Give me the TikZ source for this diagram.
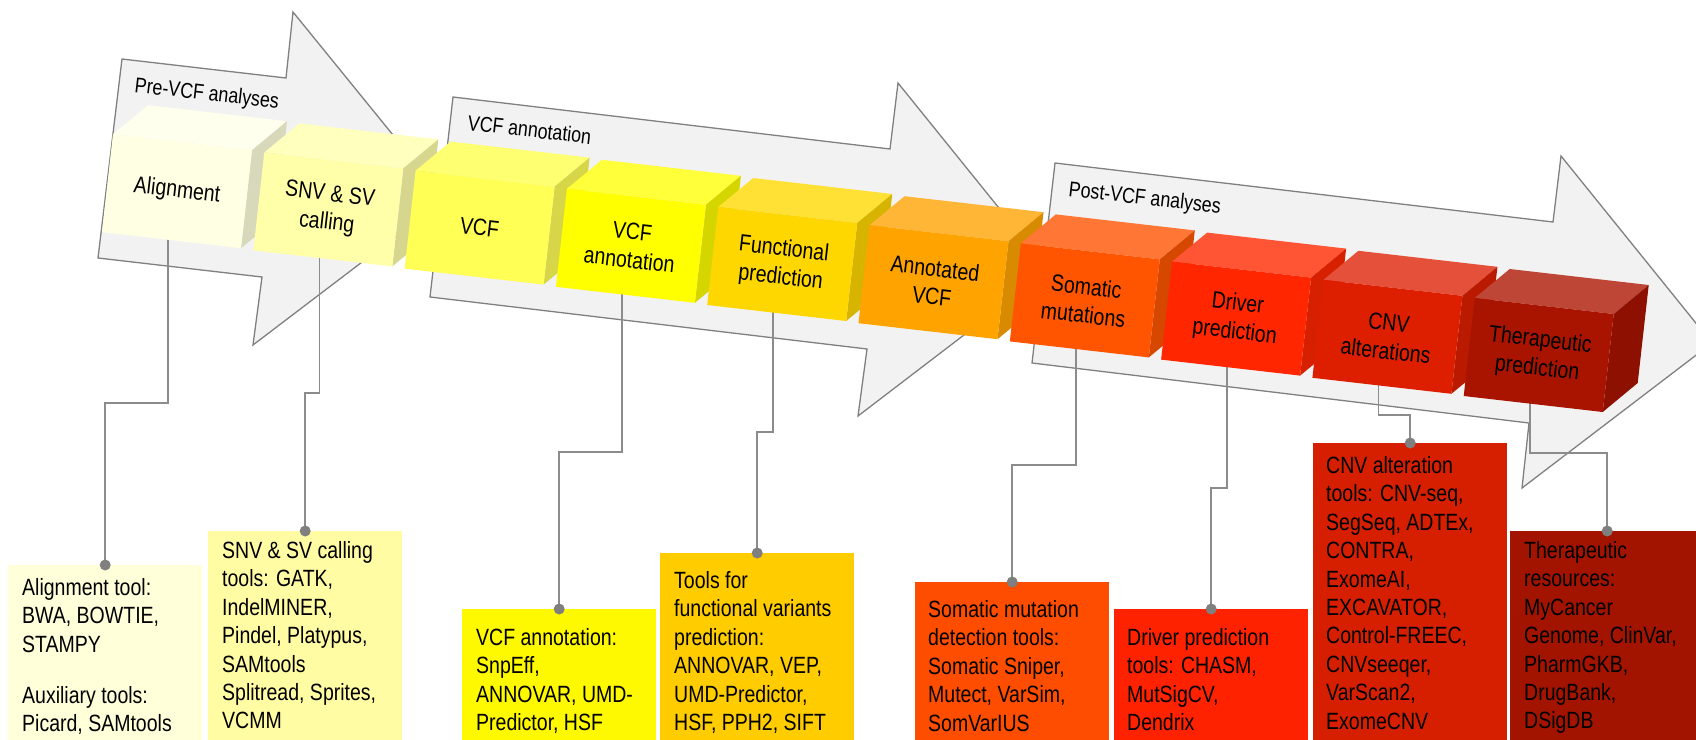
\documentclass[tikz,border=0pt]{standalone}
\usepackage{fontspec}
\setmainfont{Liberation Sans}[FakeStretch=0.83]
\usetikzlibrary{calc}
\pgfdeclarelayer{arrowlayer}
\pgfdeclarelayer{linklayer}
\pgfsetlayers{arrowlayer,linklayer,main}

\definecolor{arrowfill}{HTML}{F2F2F2}
\definecolor{arrowline}{HTML}{808080}
\definecolor{linkgray}{HTML}{8C8C8C}
\definecolor{dotgray}{HTML}{7F7F7F}
% cube colours: front, top, side
\definecolor{c0f}{HTML}{FFFFE3}\definecolor{c0t}{HTML}{FFFFEE}\definecolor{c0s}{HTML}{D8D8BA}
\definecolor{c1f}{HTML}{FFFFAA}\definecolor{c1t}{HTML}{FFFFBE}\definecolor{c1s}{HTML}{D6D68E}
\definecolor{c2f}{HTML}{FFFF55}\definecolor{c2t}{HTML}{FFFF72}\definecolor{c2s}{HTML}{D6D648}
\definecolor{c3f}{HTML}{FFFF00}\definecolor{c3t}{HTML}{FFFF3A}\definecolor{c3s}{HTML}{D5D500}
\definecolor{c4f}{HTML}{FFD700}\definecolor{c4t}{HTML}{FFE135}\definecolor{c4s}{HTML}{D6B400}
\definecolor{c5f}{HTML}{FFA300}\definecolor{c5t}{HTML}{FFB535}\definecolor{c5s}{HTML}{D88A00}
\definecolor{c6f}{HTML}{FF5500}\definecolor{c6t}{HTML}{FF7635}\definecolor{c6s}{HTML}{D64700}
\definecolor{c7f}{HTML}{FF2600}\definecolor{c7t}{HTML}{FF5535}\definecolor{c7s}{HTML}{D62000}
\definecolor{c8f}{HTML}{DD1F00}\definecolor{c8t}{HTML}{E5503A}\definecolor{c8s}{HTML}{BA1A00}
\definecolor{c9f}{HTML}{A81400}\definecolor{c9t}{HTML}{BE4636}\definecolor{c9s}{HTML}{8E1000}
% tool box colours
\definecolor{b1c}{HTML}{FFFFDA}
\definecolor{b2c}{HTML}{FFFCA4}
\definecolor{b3c}{HTML}{FFF900}
\definecolor{b4c}{HTML}{FFCC00}
\definecolor{b5c}{HTML}{FF4D00}
\definecolor{b6c}{HTML}{FF2200}
\definecolor{b7c}{HTML}{D61F00}
\definecolor{b8c}{HTML}{A31400}

\tikzset{
  bigarrow/.style={fill=arrowfill, draw=arrowline, line width=1.3pt, line join=miter},
  arrowlabel/.style={font=\fontsize{21.5}{26}\selectfont, anchor=base west, rotate=-6.57, inner sep=0pt},
  cubelabel/.style={font=\fontsize{23.5}{28.4}\selectfont, align=center, rotate=-6.57, inner sep=0pt},
  link/.style={draw=linkgray, line width=1.6pt},
  linkdot/.style={fill=dotgray},
  toolbox/.style={minimum width=194pt, minimum height=260pt, anchor=north west, inner sep=0pt, draw=none},
  tooltext/.style={font=\fontsize{23.5}{28.4}\selectfont, align=left, anchor=north west, inner sep=0pt},
}

% #1 index, #2 name, #3 front, #4 top, #5 side, #6 label
\newcommand\mkcube[6]{%
  \coordinate (#2tl) at ({113+151.3*#1},{134.2+18.2*#1});
  \fill[#4] (#2tl) -- ++(35,-29) -- ++(139,16) -- ++(-35,29) -- cycle;
  \fill[#5] ($(#2tl)+(139,16)$) -- ++(35,-29) -- ++(-11,98) -- ++(-35,29) -- cycle;
  \fill[#3] (#2tl) -- ++(139,16) -- ++(-11,98) -- ++(-139,-16) -- cycle;
  \node[cubelabel] (#2) at ($(#2tl)+(64,57)$) {#6};
  \coordinate (#2b) at ($(#2tl)+(55,95)$);
}

\begin{document}
\begin{tikzpicture}[x=1pt,y=-1pt]
\useasboundingbox (0,0) rectangle (1696,739);
\clip (0,0) rectangle (1696,739);

% ---------- big arrows ----------
\begin{pgfonlayer}{arrowlayer}
\draw[bigarrow] (122,59) -- (286,78) -- (293,12) -- (445,199) -- (253,345) -- (262,277) -- (98,258) -- cycle;
\draw[bigarrow] (453,97) -- (890,149) -- (898,83) -- (1049,270) -- (858,416) -- (867,349) -- (430,297) -- cycle;
\draw[bigarrow] (1055,163) -- (1553,222) -- (1561,156) -- (1712,343) -- (1522,488) -- (1529,423) -- (1032,363) -- cycle;
\node[arrowlabel] (preL) at (134,92) {Pre-VCF analyses};
\node[arrowlabel] (annL) at (467,130) {VCF annotation};
\node[arrowlabel] (postL) at (1068,196) {Post-VCF analyses};
\end{pgfonlayer}

% ---------- cubes ----------
\mkcube{0}{al}{c0f}{c0t}{c0s}{Alignment}
\mkcube{1}{sv}{c1f}{c1t}{c1s}{SNV \& SV\\calling}
\mkcube{2}{vc}{c2f}{c2t}{c2s}{VCF}
\mkcube{3}{va}{c3f}{c3t}{c3s}{VCF\\annotation}
\mkcube{4}{fp}{c4f}{c4t}{c4s}{Functional\\prediction}
\mkcube{5}{av}{c5f}{c5t}{c5s}{Annotated\\VCF}
\mkcube{6}{sm}{c6f}{c6t}{c6s}{Somatic\\mutations}
\mkcube{7}{dr}{c7f}{c7t}{c7s}{Driver\\prediction}
\mkcube{8}{cn}{c8f}{c8t}{c8s}{CNV\\alterations}
\mkcube{9}{th}{c9f}{c9t}{c9s}{Therapeutic\\prediction}

% ---------- tool boxes ----------
\node[toolbox, fill=b1c] (t1) at (8,565) {};
\node[toolbox, fill=b2c] (t2) at (208,531) {};
\node[toolbox, fill=b3c] (t3) at (462,609) {};
\node[toolbox, fill=b4c] (t4) at (660,553) {};
\node[toolbox, fill=b5c] (t5) at (915,582) {};
\node[toolbox, fill=b6c] (t6) at (1114,609) {};
\node[toolbox, fill=b7c, minimum height=320pt] (t7) at (1313,443) {};
\node[toolbox, fill=b8c] (t8) at (1510,531) {};

\node[tooltext] (x1a) at (22,575.5) {\strut Alignment tool:\\BWA, BOWTIE,\\STAMPY};
\node[tooltext] (x1b) at (22,683.5) {\strut Auxiliary tools:\\Picard, SAMtools};
\node[tooltext] (x2) at (222,538.5) {\strut SNV \& SV calling\\tools: GATK,\\IndelMINER,\\Pindel, Platypus,\\SAMtools\\Splitread, Sprites,\\VCMM};
\node[tooltext] (x3) at (476,625.5) {\strut VCF annotation:\\SnpEff,\\ANNOVAR, UMD-\\Predictor, HSF};
\node[tooltext] (x4) at (674,568.5) {\strut Tools for\\functional variants\\prediction:\\ANNOVAR, VEP,\\UMD-Predictor,\\HSF, PPH2, SIFT};
\node[tooltext] (x5) at (928,597.5) {\strut Somatic mutation\\detection tools:\\Somatic Sniper,\\Mutect, VarSim,\\SomVarIUS};
\node[tooltext] (x6) at (1127,625.5) {\strut Driver prediction\\tools: CHASM,\\MutSigCV,\\Dendrix};
\node[tooltext] (x7) at (1326,453.5) {\strut CNV alteration\\tools: CNV-seq,\\SegSeq, ADTEx,\\CONTRA,\\ExomeAI,\\EXCAVATOR,\\Control-FREEC,\\CNVseeqer,\\VarScan2,\\ExomeCNV};
\node[tooltext] (x8) at (1524,538.5) {\strut Therapeutic\\resources:\\MyCancer\\Genome, ClinVar,\\PharmGKB,\\DrugBank,\\DSigDB};

% ---------- connectors ----------
\coordinate (j1) at (0,403);
\coordinate (j2) at (0,393);
\coordinate (j3) at (0,452);
\coordinate (j4) at (0,432);
\coordinate (j5) at (0,465);
\coordinate (j6) at (0,488);
\coordinate (j7) at (0,415);
\coordinate (j8) at (0,453);
\begin{pgfonlayer}{linklayer}
\draw[link] (alb) -- (alb |- j1) -| (t1.north);
\draw[link] (svb) -- (svb |- j2) -| (t2.north);
\draw[link] (vab) -- (vab |- j3) -| (t3.north);
\draw[link] (fpb) -- (fpb |- j4) -| (t4.north);
\draw[link] (smb) -- (smb |- j5) -| (t5.north);
\draw[link] (drb) -- (drb |- j6) -| (t6.north);
\draw[link] (cnb) -- (cnb |- j7) -| (t7.north);
\draw[link] (thb) -- (thb |- j8) -| (t8.north);
\end{pgfonlayer}
\foreach \b in {t1,t2,t3,t4,t5,t6,t7,t8}
  \fill[linkdot] (\b.north) circle[radius=5.5pt];
\end{tikzpicture}
\end{document}
